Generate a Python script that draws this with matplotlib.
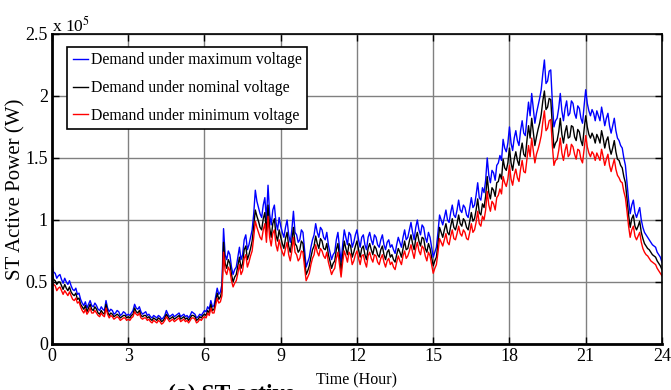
import numpy as np
import matplotlib
matplotlib.use("Agg")
import matplotlib.pyplot as plt

plt.rcParams["font.family"] = ["Liberation Serif", "DejaVu Serif"]
plt.rcParams["mathtext.fontset"] = "stix"

# demand in units of 1e5 W, one value every 1/16 hour (0..24), one row per hour
demand_max = [
    0.64, 0.58, 0.57, 0.53, 0.55, 0.56, 0.52, 0.49, 0.53, 0.50, 0.48, 0.51, 0.47, 0.44, 0.43, 0.45,
    0.40, 0.41, 0.36, 0.33, 0.31, 0.34, 0.29, 0.32, 0.35, 0.31, 0.30, 0.33, 0.31, 0.28, 0.27, 0.30,
    0.28, 0.27, 0.35, 0.29, 0.26, 0.28, 0.27, 0.24, 0.25, 0.27, 0.26, 0.23, 0.24, 0.26, 0.25, 0.23,
    0.24, 0.23, 0.25, 0.27, 0.32, 0.29, 0.28, 0.30, 0.26, 0.24, 0.25, 0.26, 0.23, 0.24, 0.22, 0.21,
    0.23, 0.22, 0.21, 0.23, 0.22, 0.20, 0.21, 0.23, 0.27, 0.24, 0.22, 0.23, 0.24, 0.22, 0.23, 0.24,
    0.25, 0.22, 0.23, 0.24, 0.22, 0.23, 0.21, 0.23, 0.26, 0.25, 0.24, 0.21, 0.22, 0.24, 0.23, 0.25,
    0.27, 0.26, 0.30, 0.28, 0.35, 0.30, 0.31, 0.38, 0.45, 0.40, 0.42, 0.48, 0.93, 0.72, 0.68, 0.75,
    0.72, 0.62, 0.56, 0.60, 0.62, 0.70, 0.78, 0.68, 0.72, 0.84, 0.88, 0.76, 0.80, 0.86, 0.92, 1.05,
    1.24, 1.15, 1.10, 1.05, 1.02, 1.12, 1.18, 1.00, 1.28, 1.05, 0.96, 1.08, 1.12, 0.98, 0.92, 1.02,
    0.95, 0.90, 0.86, 0.94, 1.00, 0.88, 0.82, 0.92, 1.07, 0.90, 0.88, 0.82, 0.84, 0.92, 0.90, 0.76,
    0.62, 0.66, 0.70, 0.78, 0.84, 0.88, 0.97, 0.90, 0.86, 0.94, 0.92, 0.86, 0.84, 0.90, 0.80, 0.74,
    0.68, 0.72, 0.74, 0.84, 0.90, 0.78, 0.66, 0.80, 0.92, 0.86, 0.80, 0.90, 0.88, 0.78, 0.82, 0.88,
    0.92, 0.84, 0.78, 0.86, 0.88, 0.80, 0.76, 0.86, 0.90, 0.84, 0.80, 0.88, 0.86, 0.80, 0.78, 0.84,
    0.88, 0.80, 0.76, 0.82, 0.84, 0.78, 0.80, 0.76, 0.73, 0.80, 0.86, 0.82, 0.78, 0.86, 0.92, 0.84,
    0.86, 0.92, 0.98, 0.90, 0.84, 0.94, 1.00, 0.92, 0.88, 0.96, 0.94, 0.86, 0.82, 0.90, 0.86, 0.78,
    0.70, 0.74, 0.78, 0.90, 1.04, 1.00, 0.96, 1.02, 1.08, 1.00, 0.98, 1.06, 1.12, 1.04, 1.02, 1.08,
    1.16, 1.08, 1.06, 1.12, 1.10, 1.04, 1.02, 1.10, 1.18, 1.10, 1.12, 1.20, 1.30, 1.18, 1.16, 1.26,
    1.22, 1.32, 1.50, 1.36, 1.30, 1.40, 1.38, 1.32, 1.44, 1.46, 1.52, 1.48, 1.65, 1.58, 1.55, 1.62,
    1.75, 1.62, 1.56, 1.66, 1.72, 1.64, 1.60, 1.72, 1.80, 1.70, 1.68, 1.82, 1.95, 1.84, 2.02, 1.90,
    1.78, 1.86, 1.92, 1.98, 2.05, 2.18, 2.29, 2.10, 2.12, 2.20, 2.21, 1.95, 1.75, 1.80, 1.82, 1.90,
    2.02, 1.88, 1.80, 1.90, 1.96, 1.84, 1.86, 1.96, 1.94, 1.86, 1.82, 1.92, 1.90, 1.82, 1.78, 1.92,
    2.05, 1.94, 1.88, 1.84, 1.89, 1.86, 1.80, 1.88, 1.84, 1.80, 1.91, 1.84, 1.76, 1.82, 1.86, 1.76,
    1.70, 1.76, 1.82, 1.72, 1.66, 1.64, 1.60, 1.58, 1.50, 1.44, 1.30, 1.16, 1.05, 1.12, 1.16, 1.06,
    1.02, 1.06, 1.10, 1.00, 0.94, 0.90, 0.88, 0.86, 0.84, 0.82, 0.80, 0.79, 0.78, 0.74, 0.72, 0.70,
    0.66,
]
demand_nom = [
    0.58, 0.52, 0.51, 0.48, 0.50, 0.50, 0.47, 0.44, 0.48, 0.45, 0.43, 0.46, 0.42, 0.40, 0.39, 0.41,
    0.36, 0.37, 0.32, 0.30, 0.28, 0.31, 0.26, 0.29, 0.32, 0.28, 0.27, 0.30, 0.28, 0.25, 0.24, 0.27,
    0.25, 0.24, 0.32, 0.26, 0.23, 0.25, 0.24, 0.22, 0.23, 0.24, 0.23, 0.21, 0.22, 0.23, 0.23, 0.21,
    0.22, 0.21, 0.23, 0.24, 0.29, 0.26, 0.25, 0.27, 0.23, 0.22, 0.23, 0.23, 0.21, 0.22, 0.20, 0.19,
    0.21, 0.20, 0.19, 0.21, 0.20, 0.18, 0.19, 0.21, 0.24, 0.22, 0.20, 0.21, 0.22, 0.20, 0.21, 0.22,
    0.23, 0.20, 0.21, 0.22, 0.20, 0.21, 0.19, 0.21, 0.23, 0.23, 0.22, 0.19, 0.20, 0.22, 0.21, 0.23,
    0.24, 0.23, 0.27, 0.25, 0.32, 0.27, 0.28, 0.34, 0.41, 0.36, 0.38, 0.43, 0.82, 0.65, 0.61, 0.68,
    0.65, 0.56, 0.50, 0.54, 0.56, 0.63, 0.70, 0.61, 0.65, 0.76, 0.79, 0.68, 0.72, 0.77, 0.83, 0.95,
    1.08, 1.03, 0.99, 0.94, 0.92, 1.01, 1.06, 0.90, 1.12, 0.94, 0.86, 0.97, 1.01, 0.88, 0.83, 0.92,
    0.86, 0.81, 0.77, 0.85, 0.90, 0.79, 0.74, 0.83, 0.94, 0.81, 0.79, 0.74, 0.76, 0.83, 0.81, 0.68,
    0.56, 0.59, 0.63, 0.70, 0.76, 0.79, 0.87, 0.81, 0.77, 0.85, 0.83, 0.77, 0.76, 0.81, 0.72, 0.67,
    0.61, 0.65, 0.67, 0.76, 0.81, 0.70, 0.59, 0.72, 0.83, 0.77, 0.72, 0.81, 0.79, 0.70, 0.74, 0.79,
    0.83, 0.76, 0.70, 0.77, 0.79, 0.72, 0.68, 0.77, 0.81, 0.76, 0.72, 0.79, 0.77, 0.72, 0.70, 0.76,
    0.79, 0.72, 0.68, 0.74, 0.76, 0.70, 0.72, 0.68, 0.66, 0.72, 0.77, 0.74, 0.70, 0.77, 0.83, 0.76,
    0.77, 0.83, 0.88, 0.81, 0.76, 0.85, 0.90, 0.83, 0.79, 0.86, 0.85, 0.77, 0.74, 0.81, 0.77, 0.70,
    0.63, 0.67, 0.70, 0.81, 0.94, 0.90, 0.86, 0.92, 0.97, 0.90, 0.88, 0.95, 1.01, 0.94, 0.92, 0.97,
    1.04, 0.97, 0.95, 1.01, 0.99, 0.94, 0.92, 0.99, 1.06, 0.99, 1.01, 1.08, 1.17, 1.06, 1.04, 1.13,
    1.10, 1.19, 1.35, 1.22, 1.17, 1.26, 1.24, 1.19, 1.30, 1.31, 1.37, 1.33, 1.49, 1.42, 1.40, 1.46,
    1.58, 1.46, 1.40, 1.49, 1.55, 1.48, 1.44, 1.55, 1.62, 1.53, 1.51, 1.64, 1.76, 1.66, 1.82, 1.71,
    1.60, 1.67, 1.73, 1.78, 1.85, 1.96, 2.04, 1.89, 1.91, 1.98, 1.97, 1.76, 1.58, 1.62, 1.64, 1.71,
    1.82, 1.69, 1.62, 1.71, 1.76, 1.66, 1.67, 1.76, 1.75, 1.67, 1.64, 1.73, 1.71, 1.64, 1.60, 1.73,
    1.84, 1.75, 1.69, 1.66, 1.70, 1.67, 1.62, 1.69, 1.66, 1.62, 1.72, 1.66, 1.58, 1.64, 1.67, 1.58,
    1.53, 1.58, 1.64, 1.55, 1.49, 1.48, 1.44, 1.42, 1.35, 1.30, 1.17, 1.04, 0.94, 1.01, 1.04, 0.95,
    0.92, 0.95, 0.99, 0.90, 0.85, 0.81, 0.79, 0.77, 0.76, 0.74, 0.72, 0.71, 0.70, 0.67, 0.65, 0.63,
    0.60,
]
demand_min = [
    0.52, 0.48, 0.47, 0.43, 0.45, 0.46, 0.43, 0.40, 0.43, 0.41, 0.39, 0.42, 0.39, 0.36, 0.35, 0.37,
    0.33, 0.34, 0.30, 0.27, 0.25, 0.28, 0.24, 0.26, 0.29, 0.25, 0.25, 0.27, 0.25, 0.23, 0.22, 0.25,
    0.23, 0.22, 0.29, 0.24, 0.21, 0.23, 0.22, 0.20, 0.21, 0.22, 0.21, 0.19, 0.20, 0.21, 0.21, 0.19,
    0.20, 0.19, 0.21, 0.22, 0.26, 0.24, 0.23, 0.25, 0.21, 0.20, 0.21, 0.21, 0.19, 0.20, 0.18, 0.17,
    0.19, 0.18, 0.17, 0.19, 0.18, 0.16, 0.17, 0.19, 0.22, 0.20, 0.18, 0.19, 0.20, 0.18, 0.19, 0.20,
    0.21, 0.18, 0.19, 0.20, 0.18, 0.19, 0.17, 0.19, 0.21, 0.21, 0.20, 0.17, 0.18, 0.20, 0.19, 0.21,
    0.22, 0.21, 0.25, 0.23, 0.29, 0.25, 0.25, 0.31, 0.37, 0.33, 0.34, 0.39, 0.74, 0.59, 0.56, 0.62,
    0.59, 0.51, 0.46, 0.49, 0.51, 0.57, 0.64, 0.56, 0.59, 0.69, 0.72, 0.62, 0.66, 0.71, 0.75, 0.86,
    0.99, 0.94, 0.90, 0.86, 0.84, 0.92, 0.97, 0.82, 1.03, 0.86, 0.79, 0.89, 0.92, 0.80, 0.75, 0.84,
    0.78, 0.74, 0.71, 0.77, 0.82, 0.72, 0.67, 0.75, 0.86, 0.74, 0.72, 0.67, 0.69, 0.75, 0.74, 0.62,
    0.51, 0.54, 0.57, 0.64, 0.69, 0.72, 0.80, 0.74, 0.71, 0.77, 0.75, 0.71, 0.69, 0.74, 0.66, 0.61,
    0.56, 0.59, 0.61, 0.69, 0.74, 0.64, 0.54, 0.66, 0.75, 0.71, 0.66, 0.74, 0.72, 0.64, 0.67, 0.72,
    0.75, 0.69, 0.64, 0.71, 0.72, 0.66, 0.62, 0.71, 0.74, 0.69, 0.66, 0.72, 0.71, 0.66, 0.64, 0.69,
    0.72, 0.66, 0.62, 0.67, 0.69, 0.64, 0.66, 0.62, 0.60, 0.66, 0.71, 0.67, 0.64, 0.71, 0.75, 0.69,
    0.71, 0.75, 0.80, 0.74, 0.69, 0.77, 0.82, 0.75, 0.72, 0.79, 0.77, 0.71, 0.67, 0.74, 0.71, 0.64,
    0.57, 0.61, 0.64, 0.74, 0.85, 0.82, 0.79, 0.84, 0.89, 0.82, 0.80, 0.87, 0.92, 0.85, 0.84, 0.89,
    0.95, 0.89, 0.87, 0.92, 0.90, 0.85, 0.84, 0.90, 0.97, 0.90, 0.92, 0.98, 1.07, 0.97, 0.95, 1.03,
    1.00, 1.08, 1.23, 1.12, 1.07, 1.15, 1.13, 1.08, 1.18, 1.20, 1.25, 1.21, 1.35, 1.30, 1.27, 1.33,
    1.44, 1.33, 1.28, 1.36, 1.41, 1.34, 1.31, 1.41, 1.48, 1.39, 1.38, 1.49, 1.60, 1.51, 1.66, 1.56,
    1.46, 1.53, 1.57, 1.62, 1.68, 1.79, 1.88, 1.72, 1.74, 1.80, 1.81, 1.60, 1.44, 1.48, 1.49, 1.56,
    1.66, 1.54, 1.48, 1.56, 1.61, 1.51, 1.53, 1.61, 1.59, 1.53, 1.49, 1.57, 1.56, 1.49, 1.46, 1.57,
    1.68, 1.59, 1.54, 1.51, 1.55, 1.53, 1.48, 1.54, 1.51, 1.48, 1.57, 1.51, 1.44, 1.49, 1.53, 1.44,
    1.39, 1.44, 1.49, 1.41, 1.36, 1.34, 1.31, 1.30, 1.23, 1.18, 1.07, 0.95, 0.86, 0.92, 0.95, 0.87,
    0.84, 0.87, 0.90, 0.82, 0.77, 0.74, 0.72, 0.71, 0.69, 0.67, 0.66, 0.65, 0.64, 0.61, 0.59, 0.57,
    0.55,
]
hours = np.linspace(0, 24, len(demand_max))
xticks = [0, 3, 6, 9, 12, 15, 18, 21, 24]
yticks = [0, 0.5e5, 1e5, 1.5e5, 2e5, 2.5e5]
ytick_labels = ["0", "0.5", "1", "1.5", "2", "2.5"]

fig = plt.figure(figsize=(6.71, 3.90), dpi=100)
ax = fig.add_axes([0.0775, 0.118, 0.909, 0.795])

scale = 1e5
ax.plot(hours, np.array(demand_max) * scale, color="#0000ff", lw=1.0,
        label="Demand under maximum voltage")
ax.plot(hours, np.array(demand_nom) * scale, color="black", lw=1.0,
        label="Demand under nominal voltage")
ax.plot(hours, np.array(demand_min) * scale, color="#ff0000", lw=1.0,
        label="Demand under minimum voltage")

ax.set_xlim(0, 24)
ax.set_ylim(0, 2.5e5)
ax.set_xticks(xticks)
ax.set_yticks(yticks)
ax.set_yticklabels(ytick_labels)
ax.tick_params(direction="in", top=True, right=True, length=5, width=1,
               labelsize=13, pad=3)
ax.grid(True, color="#808080", lw=1.0)
ax.set_axisbelow(True)
for side in ["top", "right"]:
    ax.spines[side].set_linewidth(1.2)
for side in ["bottom", "left"]:
    ax.spines[side].set_linewidth(2.0)

ax.set_ylabel("ST Active Power (W)", fontsize=15, labelpad=0)
ax.set_xlabel("Time (Hour)", fontsize=11.5, labelpad=5)
fig.text(0.0775, 0.918, "x 10$^5$", fontsize=12.5, ha="left", va="baseline")
# figure caption, mostly cut off by the bottom edge like in the original
fig.text(0.25, -0.025, "(a) ST active", fontsize=17,
         fontweight="bold", ha="left", va="baseline")

leg = ax.legend(loc="upper left", bbox_to_anchor=(0.0246, 0.958),
                borderaxespad=0, fontsize=11.3, handlelength=1.0,
                handletextpad=0.15, labelspacing=0.75, borderpad=0.35,
                fancybox=False, framealpha=1, edgecolor="black")
leg.get_frame().set_linewidth(1.2)

fig.savefig("out.png", dpi=100)
